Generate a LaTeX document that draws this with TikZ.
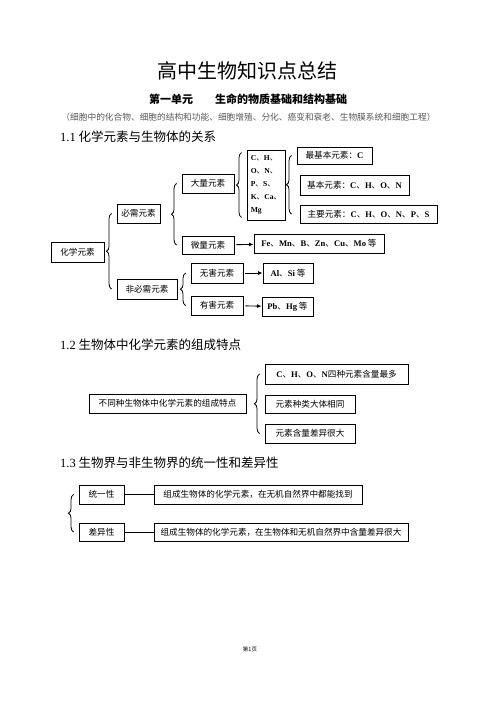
\documentclass[tikz,border=0pt]{standalone}
\usepackage{fontspec}
\setmainfont{Noto Sans CJK SC}
\newfontfamily\lat{Liberation Serif}
\usetikzlibrary{calc,decorations.pathreplacing,arrows.meta}

\newcommand{\el}[1]{{\lat\bfseries #1}}
\providecommand{\titlefontsize}{\fontsize{20}{24}\selectfont}
\providecommand{\subfontsize}{\fontsize{11}{14}\selectfont}
\providecommand{\notefontsize}{\fontsize{8.7}{11}\selectfont}
\providecommand{\secfontsize}{\fontsize{12.5}{15}\selectfont}
\providecommand{\boxfontsize}{\fontsize{8.6}{13}\selectfont}

\tikzset{
  elbox/.style={draw,line width=0.9pt,inner sep=0pt,font=\boxfontsize},
  curly/.style={decorate,decoration={brace,amplitude=5pt},line width=0.8pt},
  arr/.style={-{Latex[length=4.5pt,width=4pt]},line width=0.9pt,shorten <=2pt},
  sec/.style={anchor=west,inner sep=0pt,font=\secfontsize}
}

\begin{document}
\begin{tikzpicture}[x=1pt,y=-1pt]
    \useasboundingbox (0,0) rectangle (496,702);
    % headings
    \node[inner sep=0pt,font=\titlefontsize] (title) at (247,71) {高中生物知识点总结};
    \node[inner sep=0pt,font=\subfontsize\bfseries] (unit) at (248,99) {第一单元\hspace{2em}生命的物质基础和结构基础};
    \node[inner sep=0pt,font=\notefontsize,text=black!65] (note) at (248.5,117) {（细胞中的化合物、细胞的结构和功能、细胞增殖、分化、癌变和衰老、生物膜系统和细胞工程）};
    \node[sec] (secA) at (60,137) {{\lat 1.1} 化学元素与生物体的关系};
    \node[sec] (secB) at (60,345) {{\lat 1.2} 生物体中化学元素的组成特点};
    \node[sec] (secC) at (60,463) {{\lat 1.3} 生物界与非生物界的统一性和差异性};

    % 1.1
    \node[elbox,minimum width=53,minimum height=20] (huaxue) at (77.5,252) {化学元素};
    \node[elbox,minimum width=43,minimum height=19] (bixu) at (138.5,213.5) {必需元素};
    \node[elbox,minimum width=60,minimum height=20] (feibixu) at (147,289) {非必需元素};
    \node[elbox,minimum width=52,minimum height=19] (daliang) at (208,183.5) {大量元素};
    \node[elbox,minimum width=52,minimum height=18] (weiliang) at (208,245) {微量元素};
    \node[elbox,minimum width=52,minimum height=20] (wuhai) at (217,273) {无害元素};
    \node[elbox,minimum width=52,minimum height=19] (youhai) at (217,305.5) {有害元素};
    \node[elbox,minimum width=38,minimum height=70,align=left,font=\fontsize{7.6}{13}\selectfont] (cbox) at (266,185)
      {\el{C}、\el{H}、\\\el{O}、\el{N}、\\\el{P}、\el{S}、\\\el{K}、\el{Ca}、\\\el{Mg}};
    \node[elbox,minimum width=75,minimum height=17] (zuijiben) at (334.5,155.5) {最基本元素：\el{C}};
    \node[elbox,minimum width=109,minimum height=20] (jiben) at (354.5,185) {基本元素：\el{C}、\el{H}、\el{O}、\el{N}};
    \node[elbox,minimum width=137,minimum height=18] (zhuyao) at (368.5,214) {主要元素：\el{C}、\el{H}、\el{O}、\el{N}、\el{P}、\el{S}};
    \node[elbox,minimum width=130,minimum height=19] (fe) at (319,243.5) {\el{Fe}、\el{Mn}、\el{B}、\el{Zn}、\el{Cu}、\el{Mo} 等};
    \node[elbox,minimum width=50,minimum height=20] (alsi) at (288,273) {\el{Al}、\el{Si} 等};
    \node[elbox,minimum width=51,minimum height=19] (pbhg) at (287.5,306.5) {\el{Pb}、\el{Hg} 等};

    \draw[curly] ($(feibixu.west)+(-5,0)$) -- ($(bixu.west)+(-5,0)$);
    \draw[curly] ($(weiliang.west)+(-5,0)$) -- ($(daliang.west)+(-5,0)$);
    \draw[curly] ($(youhai.west)+(-5,0)$) -- ($(wuhai.west)+(-5,0)$);
    \draw[curly] ($(cbox.south west)+(-5,-3)$) -- ($(cbox.north west)+(-5,3)$);
    \draw[curly] ($(zhuyao.west -| zuijiben.west)+(-5,0)$) -- ($(zuijiben.west)+(-5,0)$);
    \draw[arr] (weiliang) -- (fe);
    \draw[arr] (wuhai) -- (alsi);
    \draw[arr] (youhai) -- (pbhg);

    % 1.2
    \node[elbox,minimum width=157,minimum height=19] (zucheng) at (167.5,403.5) {不同种生物体中化学元素的组成特点};
    \node[elbox,minimum width=143,minimum height=20] (sizhong) at (336.5,374) {\el{C}、\el{H}、\el{O}、\el{N}四种元素含量最多};
    \node[elbox,minimum width=90,minimum height=18] (zhonglei) at (310,404) {元素种类大体相同};
    \node[elbox,minimum width=90,minimum height=19] (hanliang) at (310,433.5) {元素含量差异很大};
    \draw[curly] ($(hanliang.west)+(-5,0)$) -- ($(sizhong.west)+(-5,0)$);

    % 1.3
    \node[elbox,minimum width=45,minimum height=19] (tongyi) at (101.5,494.5) {统一性};
    \node[elbox,minimum width=45,minimum height=18] (chayi) at (101.5,532) {差异性};
    \node[elbox,minimum width=208,minimum height=19] (tongyitext) at (258,494.5) {组成生物体的化学元素，在无机自然界中都能找到};
    \node[elbox,minimum width=254,minimum height=18] (chayitext) at (281,532) {组成生物体的化学元素，在生物体和无机自然界中含量差异很大};
    \draw[curly] ($(chayi.west)+(-5,0)$) -- ($(tongyi.west)+(-5,0)$);
    \draw[line width=0.9pt] (tongyi) -- (tongyitext);
    \draw[line width=0.9pt] (chayi) -- (chayitext);

    \node[inner sep=0pt,font=\fontsize{5.5}{7}\selectfont] (page) at (250,649) {第1页};
\end{tikzpicture}
\end{document}
